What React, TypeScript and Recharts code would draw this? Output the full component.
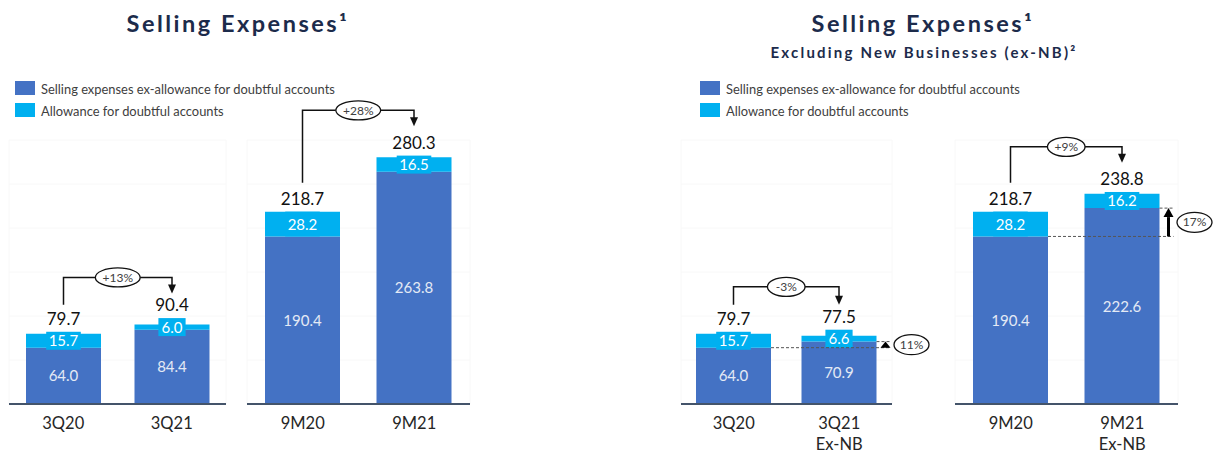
import React from "react";
import { BarChart, Bar, XAxis, YAxis, CartesianGrid, LabelList } from "recharts";

const DARK_BLUE = "#4472c4";
const LIGHT_BLUE = "#00b0f0";
const FONT = "Lato, 'Liberation Sans', sans-serif";

// quarter, reported
const qCategories = ["3Q20", "3Q21"];
const qBase = [64.0, 84.4];
const qAllowance = [15.7, 6.0];
const qTotals = [79.7, 90.4];

// nine months, reported
const ytdCategories = ["9M20", "9M21"];
const ytdBase = [190.4, 263.8];
const ytdAllowance = [28.2, 16.5];
const ytdTotals = [218.7, 280.3];

// quarter, excluding new businesses ("|" breaks the tick label)
const qExCategories = ["3Q20", "3Q21|Ex-NB"];
const qExBase = [64.0, 70.9];
const qExAllowance = [15.7, 6.6];
const qExTotals = [79.7, 77.5];

// nine months, excluding new businesses
const ytdExCategories = ["9M20", "9M21|Ex-NB"];
const ytdExBase = [190.4, 222.6];
const ytdExAllowance = [28.2, 16.2];
const ytdExTotals = [218.7, 238.8];

const totalGrowth = ["+13%", "+28%", "-3%", "+9%"];
const baseGrowth = ["11%", "17%"];

const legendItems = [
  { label: "Selling expenses ex-allowance for doubtful accounts", color: DARK_BLUE },
  { label: "Allowance for doubtful accounts", color: LIGHT_BLUE },
];

const Y_TICKS = [0, 50, 100, 150, 200, 250, 300];

type Geo = { x: number; y: number; width: number; height: number };

const boxOf = (p: any): Geo => {
  const v = p.viewBox && p.viewBox.width !== undefined ? p.viewBox : p;
  return { x: Number(v.x), y: Number(v.y), width: Number(v.width), height: Number(v.height) };
};

function CategoryTick(props: any) {
  const lines = String(props.payload.value).split("|");
  return (
    <g>
      {lines.map((line, k) => (
        <text
          key={k}
          x={props.x}
          y={props.y + 25 + k * 20.5}
          textAnchor="middle"
          fontSize={16.5}
          fill="#262626"
          fontFamily={FONT}
        >
          {line}
        </text>
      ))}
    </g>
  );
}

function Badge({ cx, cy, text, rx, ry = 9.5 }: { cx: number; cy: number; text: string; rx: number; ry?: number }) {
  return (
    <g>
      <ellipse cx={cx} cy={cy} rx={rx} ry={ry} fill="#fff" stroke="#111" strokeWidth={1.3} />
      <text x={cx} y={cy + 4.2} textAnchor="middle" fontSize={12} fill="#404040" fontFamily={FONT}>
        {text}
      </text>
    </g>
  );
}

function Panel({
  plotLeft,
  plotWidth,
  rightPad,
  categories,
  base,
  allowance,
  totals,
  change,
  baseChange,
}: {
  plotLeft: number;
  plotWidth: number;
  rightPad: number;
  categories: string[];
  base: number[];
  allowance: number[];
  totals: number[];
  change: string;
  baseChange?: string;
}) {
  const data = categories.map((cat, i) => ({ cat, base: base[i], allowance: allowance[i] }));
  const padLeft = 10;
  const width = padLeft + plotWidth + rightPad;
  const geo: Geo[] = [];

  const renderBaseLabel = (p: any) => {
    const g = boxOf(p);
    return (
      <text
        x={g.x + g.width / 2}
        y={g.y + g.height / 2 + 5.5}
        textAnchor="middle"
        fontSize={15}
        fill="#e4eaf5"
        fontFamily={FONT}
      >
        {base[p.index].toFixed(1)}
      </text>
    );
  };

  const renderTopLabel = (p: any) => {
    const i = p.index;
    const g = boxOf(p);
    geo[i] = g;
    const cx = g.x + g.width / 2;
    const txt = allowance[i].toFixed(1);
    const boxW = txt.length * 7.4 + 5;
    const cy = g.y + g.height / 2;
    const boxTop = Math.min(g.y, cy - 9);
    const boxBottom = Math.max(g.y + g.height, cy + 9);

    const parts: React.ReactNode[] = [
      <rect key="box" x={cx - boxW / 2} y={boxTop} width={boxW} height={boxBottom - boxTop} fill={LIGHT_BLUE} />,
      <text key="seg" x={cx} y={cy + 5.5} textAnchor="middle" fontSize={15} fill="#fff" fontFamily={FONT}>
        {txt}
      </text>,
      <text key="tot" x={cx} y={Math.min(g.y, boxTop) - 7} textAnchor="middle" fontSize={17} fill="#111" fontFamily={FONT}>
        {totals[i].toFixed(1)}
      </text>,
    ];

    // bracket from the earlier bar to the later one, with the growth badge
    if (i === 1 && geo[0]) {
      const a = geo[0];
      const ax = a.x + a.width / 2;
      const level = Math.min(a.y, g.y) - 47;
      const tip = g.y - 31;
      parts.push(
        <path
          key="bracket"
          d={`M${ax},${a.y - 29} V${level} H${cx} V${tip - 8}`}
          fill="none"
          stroke="#111"
          strokeWidth={1.5}
        />,
        <polygon key="head" points={`${cx - 4},${tip - 9} ${cx + 4},${tip - 9} ${cx},${tip}`} fill="#111" />,
        <Badge key="badge" cx={(ax + cx) / 2} cy={level} text={change} rx={change.length * 3.6 + 8} />
      );

      // step between the two ex-allowance levels
      if (baseChange) {
        const y0 = a.y + a.height;
        const y1 = g.y + g.height;
        const right = g.x + g.width;
        const arrowX = right + 9;
        const head = Math.min(9, y0 - y1);
        parts.push(
          <line key="d0" x1={a.x + a.width} x2={arrowX + 5} y1={y0} y2={y0} stroke="#555" strokeWidth={1} strokeDasharray="3 2" />,
          <line key="d1" x1={right} x2={arrowX + 5} y1={y1} y2={y1} stroke="#555" strokeWidth={1} strokeDasharray="3 2" />,
          y0 - y1 > head ? (
            <line key="shaft" x1={arrowX} x2={arrowX} y1={y0} y2={y1 + head} stroke="#000" strokeWidth={3} />
          ) : null,
          <polygon
            key="up"
            points={`${arrowX - 5},${y1 + head} ${arrowX + 5},${y1 + head} ${arrowX},${y1}`}
            fill="#000"
          />,
          <Badge key="b2" cx={right + 35} cy={(y0 + y1) / 2} text={baseChange} rx={17.5} ry={10} />
        );
      }
    }
    return <g>{parts}</g>;
  };

  return (
    <div style={{ position: "absolute", left: plotLeft - padLeft, top: 0 }}>
      <BarChart
        width={width}
        height={453}
        data={data}
        barSize={75}
        margin={{ top: 140, right: rightPad, bottom: 0, left: padLeft }}
      >
        <CartesianGrid
          stroke="#f8f8f8"
          verticalCoordinatesGenerator={(p: any) =>
            p && p.offset ? [p.offset.left, p.offset.left + p.offset.width] : []
          }
        />
        <XAxis
          dataKey="cat"
          interval={0}
          height={49}
          tickLine={false}
          tickSize={0}
          tickMargin={0}
          axisLine={{ stroke: "#44546a", strokeWidth: 2 }}
          tick={<CategoryTick />}
        />
        <YAxis hide domain={[0, 300]} ticks={Y_TICKS} />
        <Bar dataKey="base" stackId="s" fill={DARK_BLUE} isAnimationActive={false}>
          <LabelList dataKey="base" content={renderBaseLabel} />
        </Bar>
        <Bar dataKey="allowance" stackId="s" fill={LIGHT_BLUE} isAnimationActive={false}>
          <LabelList dataKey="allowance" content={renderTopLabel} />
        </Bar>
      </BarChart>
    </div>
  );
}

function Legend({ x }: { x: number }) {
  return (
    <g>
      {legendItems.map((item, k) => (
        <g key={item.label}>
          <rect x={x} y={81 + k * 22} width={20} height={14} fill={item.color} />
          <text x={x + 26} y={93.5 + k * 22.5} fontSize={12.9} fill="#404040" fontFamily={FONT}>
            {item.label}
          </text>
        </g>
      ))}
    </g>
  );
}

export default function App() {
  return (
    <div
      style={{
        position: "absolute",
        left: 0,
        top: 0,
        width: 1213,
        height: 453,
        background: "#fff",
        overflow: "hidden",
      }}
    >
      <svg width={1213} height={453} style={{ position: "absolute", left: 0, top: 0 }}>
        <text x={238} y={32} textAnchor="middle" fontSize={23.5} fontWeight={700} letterSpacing={2.5} fill="#1c2b4b" fontFamily={FONT}>
          Selling Expenses¹
        </text>
        <text x={923} y={32} textAnchor="middle" fontSize={23.5} fontWeight={700} letterSpacing={2.5} fill="#1c2b4b" fontFamily={FONT}>
          Selling Expenses¹
        </text>
        <text x={924} y={58} textAnchor="middle" fontSize={15} fontWeight={700} letterSpacing={2.2} fill="#1c2b4b" fontFamily={FONT}>
          Excluding New Businesses (ex-NB)²
        </text>
        <Legend x={15} />
        <Legend x={700} />
      </svg>
      <Panel plotLeft={9} plotWidth={217} rightPad={10} categories={qCategories} base={qBase} allowance={qAllowance} totals={qTotals} change={totalGrowth[0]} />
      <Panel plotLeft={247} plotWidth={223} rightPad={10} categories={ytdCategories} base={ytdBase} allowance={ytdAllowance} totals={ytdTotals} change={totalGrowth[1]} />
      <Panel plotLeft={681} plotWidth={211} rightPad={56} categories={qExCategories} base={qExBase} allowance={qExAllowance} totals={qExTotals} change={totalGrowth[2]} baseChange={baseGrowth[0]} />
      <Panel plotLeft={955} plotWidth={223} rightPad={35} categories={ytdExCategories} base={ytdExBase} allowance={ytdExAllowance} totals={ytdExTotals} change={totalGrowth[3]} baseChange={baseGrowth[1]} />
    </div>
  );
}
